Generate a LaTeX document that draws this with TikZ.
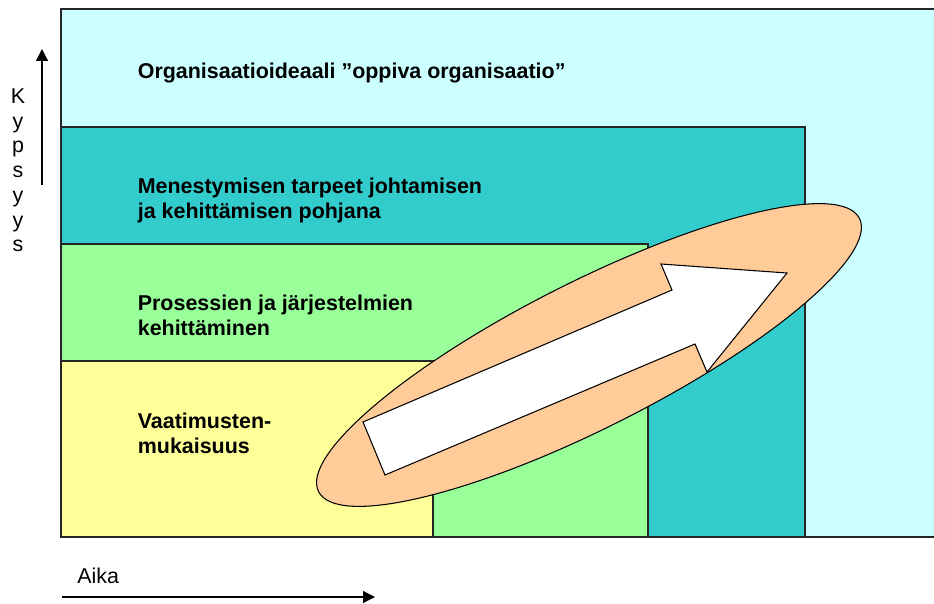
\documentclass[tikz,border=0pt]{standalone}
\usepackage{fontspec}
\setmainfont{Liberation Sans}
\usetikzlibrary{arrows.meta}
\definecolor{ideaali}{HTML}{CCFFFF}
\definecolor{menestys}{HTML}{33CCCC}
\definecolor{prosessi}{HTML}{99FF99}
\definecolor{vaatimus}{HTML}{FFFF99}
\definecolor{kehitys}{HTML}{FFCC99}
\tikzset{
    taso/.style={draw=black!85,line width=0.9pt},
    tasoteksti/.style={anchor=base west,inner sep=0pt,align=left,
        font=\fontsize{12.2}{14.2}\selectfont\bfseries},
    akseliteksti/.style={anchor=base,inner sep=0pt,font=\fontsize{12.2}{14.2}\selectfont},
    akseli/.style={line width=0.7pt,-{Triangle[length=6.8pt,width=6.8pt]}}
}
\begin{document}
\begin{tikzpicture}[x=0.02cm,y=-0.02cm]
            \useasboundingbox (0,0) rectangle (934,603);
            % tasot
            \fill[ideaali] (61,9) rectangle (960,537);
            \draw[taso] (960,9) -- (61,9) -- (61,537) -- (960,537);
            \draw[taso,fill=menestys] (61,127) rectangle (805,537);
            \draw[taso,fill=prosessi] (61,244) rectangle (648,537);
            \draw[taso,fill=vaatimus] (61,361) rectangle (433,537);
            % kehityssuunta
            \draw[line width=0.6pt,fill=kehitys,rotate around={26.8:(589,355)}]
                (589,355) ellipse [x radius=303,y radius=73];
            \draw[line width=0.6pt,fill=white] (385,475) -- (363,422) -- (672,290) -- (661,264)
                -- (787,273) -- (707,372) -- (695,344) -- cycle;
            % viimeisen rivin perusviiva
            \node[tasoteksti] (ideaali) at (137.5,78) {Organisaatioideaali ”oppiva organisaatio”};
            \node[tasoteksti] (menestys) at (137.5,218) {Menestymisen tarpeet johtamisen\\ja kehittämisen pohjana};
            \node[tasoteksti] (prosessi) at (137.5,335.5) {Prosessien ja järjestelmien\\kehittäminen};
            \node[tasoteksti] (vaatimus) at (137.5,453) {Vaatimusten-\\mukaisuus};
            % akselit
            \foreach \c [count=\i] in {K,y,p,s,y,y,s}
            {
                \node[akseliteksti] (kypsyys\i) at (18,103.5+\i*24.7-24.7) {\c};
            }
            \coordinate (kypsyysalku) at (42,185);
            \coordinate (kypsyysloppu) at (42,49);
            \draw[akseli] (kypsyysalku) -- (kypsyysloppu);
            \node[akseliteksti,anchor=base west] (aika) at (77,583.5) {Aika};
            \coordinate (aikaalku) at (62,597);
            \coordinate (aikaloppu) at (375,597);
            \draw[akseli] (aikaalku) -- (aikaloppu);
        \end{tikzpicture}
\end{document}
